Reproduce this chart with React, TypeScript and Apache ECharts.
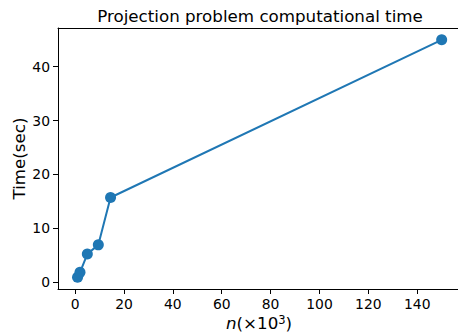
import React, { useEffect, useRef } from "react";
import * as echarts from "echarts";

const nValues = [1, 2, 5, 9.5, 14.5, 150];
const timeValues = [0.9, 1.8, 5.2, 6.9, 15.7, 45.0];
const xTicks = [0, 20, 40, 60, 80, 100, 120, 140];
const yTicks = [0, 10, 20, 30, 40];

const FONT = "DejaVu Sans";
const X_MIN = -7;
const X_MAX = 157.5;

export default function App() {
  const ref = useRef<HTMLDivElement>(null);
  useEffect(() => {
    if (!ref.current) return;
    const chart = echarts.init(ref.current, undefined, { renderer: "svg" });
    chart.setOption({
      animation: false,
      backgroundColor: "#ffffff",
      textStyle: { fontFamily: FONT },
      title: {
        text: "Projection problem computational time",
        left: 255,
        textAlign: "center",
        top: 2,
        textStyle: { fontFamily: FONT, fontSize: 16.7, fontWeight: "normal", color: "#000" },
      },
      grid: {
        left: 58,
        top: 28,
        width: 402,
        height: 261,
        outerBoundsMode: "none",
        containLabel: false,
        show: false,
      },
      xAxis: [
        {
          type: "value",
          min: X_MIN,
          max: X_MAX,
          name: "{i|n}(×10{sup|3})",
          nameLocation: "middle",
          nameGap: 25,
          nameMoveOverlap: false,
          nameTextStyle: {
            fontFamily: FONT,
            fontSize: 16.7,
            color: "#000",
            rich: {
              i: { fontStyle: "italic", fontSize: 16.7, fontFamily: FONT, color: "#000" },
              sup: { fontSize: 11.5, fontFamily: FONT, color: "#000", verticalAlign: "top", padding: [0, 0, 6, 0] },
            },
          },
          axisLine: { show: true, onZero: false, lineStyle: { color: "#000", width: 1 } },
          axisTick: { show: true, length: 5, lineStyle: { color: "#000", width: 1 }, customValues: xTicks },
          axisLabel: { fontFamily: FONT, fontSize: 13.9, color: "#000", margin: 8, customValues: xTicks },
          splitLine: { show: false },
        },
        {
          type: "value",
          position: "top",
          min: X_MIN,
          max: X_MAX,
          axisLine: { show: true, onZero: false, lineStyle: { color: "#000", width: 1 } },
          axisTick: { show: false },
          axisLabel: { show: false },
          splitLine: { show: false },
        },
      ],
      yAxis: {
        type: "value",
        min: -1.3,
        max: 47.2,
        name: "Time(sec)",
        nameLocation: "middle",
        nameGap: 31,
        nameMoveOverlap: false,
        nameTextStyle: { fontFamily: FONT, fontSize: 16.7, color: "#000" },
        axisLine: { show: true, onZero: false, lineStyle: { color: "#000", width: 1 } },
        axisTick: { show: true, length: 5, lineStyle: { color: "#000", width: 1 }, customValues: yTicks },
        axisLabel: { fontFamily: FONT, fontSize: 13.9, color: "#000", margin: 8, customValues: yTicks },
        splitLine: { show: false },
      },
      series: [
        {
          type: "line",
          xAxisIndex: 0,
          data: nValues.map((n, i) => [n, timeValues[i]]),
          symbol: "circle",
          symbolSize: 11,
          itemStyle: { color: "#1f77b4" },
          lineStyle: { color: "#1f77b4", width: 2 },
          clip: false,
        },
      ],
    });
    return () => chart.dispose();
  }, []);
  return <div ref={ref} style={{ width: 458, height: 332, position: "absolute", left: 0, top: 0 }} />;
}
